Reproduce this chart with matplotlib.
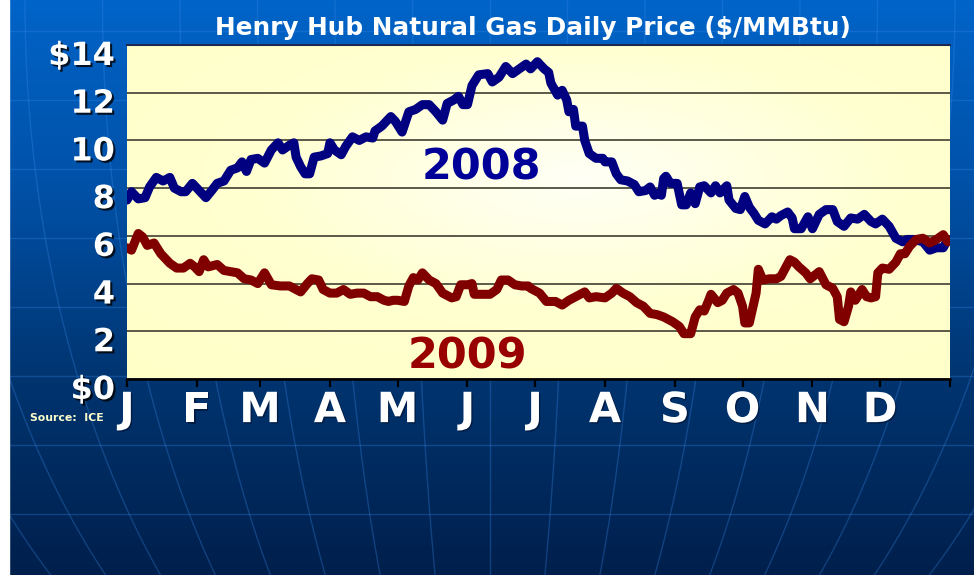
import numpy as np
import matplotlib.pyplot as plt
import matplotlib.patheffects as pe
from matplotlib.colors import LinearSegmentedColormap
from matplotlib.transforms import ScaledTranslation

# day-of-year / price readings, 2008
days08 = [0, 2, 5, 8, 10, 13, 16, 19, 21, 24, 26, 29, 32, 35, 38, 40, 43, 46, 49, 51, 53, 55,
          58, 61, 64, 67, 69, 72, 74, 75, 77, 79, 81, 83, 86, 89, 90, 92, 95, 97, 100, 103, 106, 109, 110, 113, 115, 117,
          119, 122, 125, 128, 131, 134, 137, 140, 142, 145, 147, 149, 151, 153, 156, 160, 162, 165, 168, 171, 174, 177,
          179, 182, 185, 187, 188, 191, 193, 195, 196, 198, 199, 202, 203, 205, 208, 211, 212, 215, 217, 219, 222, 225,
          227, 230, 232, 234, 236, 237,
          238, 239, 241, 244, 246, 248, 250, 252, 254, 256, 259, 261, 263, 266, 267, 270, 272, 274, 276, 278, 280, 283,
          286, 288, 290, 293, 295, 296,
          299, 302, 304, 307, 310, 313, 315, 318, 321, 324, 327, 330, 332, 335, 338, 341, 344, 346, 349, 353, 356, 359,
          362, 364]
vals08 = [7.5, 7.85, 7.55, 7.6, 8.05, 8.45, 8.3, 8.45, 8.0, 7.85, 7.85, 8.2, 7.9, 7.6, 7.95, 8.2, 8.3, 8.75, 8.85, 9.1, 8.7, 9.2,
          9.25, 9.05, 9.6, 9.9, 9.6, 9.8, 9.9, 9.3, 8.9, 8.6, 8.6, 9.3, 9.35, 9.45, 9.9, 9.6, 9.4, 9.75, 10.15, 10.0, 10.15,
          10.1, 10.4, 10.6, 10.8, 11.0,
          10.8, 10.35, 11.2, 11.3, 11.5, 11.5, 11.2, 10.85, 11.55, 11.7, 11.85, 11.5, 11.5, 12.3, 12.75, 12.8, 12.45, 12.65,
          13.1, 12.8, 13.0, 13.2,
          13.0, 13.3, 13.0, 12.85, 12.4, 11.9, 12.1, 11.7, 11.2, 11.3, 10.6, 10.6, 10.0, 9.45, 9.25, 9.25, 9.1, 9.1, 8.6,
          8.35, 8.3, 8.15, 7.85, 7.9, 8.05, 7.7, 7.8, 7.7,
          8.4, 8.5, 8.2, 8.2, 7.3, 7.3, 7.8, 7.35, 8.05, 8.1, 7.8, 8.1, 7.8, 8.1, 7.5, 7.15, 7.1, 7.65, 7.2, 6.95, 6.65, 6.5,
          6.8, 6.7, 6.85, 7.0, 6.75, 6.3,
          6.3, 6.8, 6.3, 6.9, 7.1, 7.1, 6.6, 6.4, 6.75, 6.7, 6.9, 6.6, 6.5, 6.7, 6.4, 5.9, 5.75, 5.85, 5.85, 5.75, 5.4, 5.5,
          5.5, 5.85]

# 2009
days09 = [0, 2, 5, 7, 9, 12, 15, 17, 19, 22, 25, 28, 30, 32, 34, 36, 40, 43, 46, 49, 52, 55,
          58, 61, 64, 68, 72, 75, 77, 80, 82, 85, 87, 90, 93, 96, 99, 102, 105, 108, 111, 114, 116, 118,
          120, 123, 125, 127, 129, 131, 134, 137, 140, 144, 146, 148, 151, 153, 154, 157, 161, 164, 166, 169, 172, 175, 178,
          179, 183, 186, 190, 193, 196, 199, 203, 205, 208, 212, 215, 217, 220, 223, 226, 229, 232, 235, 238,
          239, 242, 245, 247, 250, 252, 254, 256, 258, 259, 262, 264, 266, 269, 271, 273, 274, 276, 279, 280, 282, 285,
          288, 290, 292, 294, 296,
          298, 301, 303, 305, 307, 310, 313, 315, 316, 318, 320, 321, 323, 326, 328, 330, 332, 333, 335, 338, 341, 343,
          345, 347, 350, 353, 356, 359, 362, 364]
vals09 = [5.5, 5.4, 6.1, 5.95, 5.6, 5.7, 5.25, 5.05, 4.85, 4.65, 4.65, 4.85, 4.7, 4.5, 5.0, 4.7, 4.8, 4.55, 4.5, 4.45, 4.2, 4.15,
          4.0, 4.45, 3.95, 3.9, 3.9, 3.75, 3.65, 4.0, 4.2, 4.15, 3.75, 3.6, 3.6, 3.75, 3.55, 3.6, 3.6, 3.45, 3.45, 3.3, 3.25, 3.3,
          3.3, 3.25, 3.9, 4.25, 4.15, 4.45, 4.15, 4.0, 3.6, 3.4, 3.45, 3.95, 3.95, 4.0, 3.55, 3.55, 3.55, 3.75, 4.15, 4.15,
          3.95, 3.9, 3.9,
          3.8, 3.6, 3.25, 3.25, 3.1, 3.3, 3.45, 3.65, 3.4, 3.45, 3.4, 3.6, 3.8, 3.6, 3.45, 3.2, 3.05, 2.75, 2.7, 2.6,
          2.55, 2.4, 2.2, 1.9, 1.9, 2.6, 2.9, 2.85, 3.3, 3.55, 3.2, 3.3, 3.6, 3.75, 3.6, 3.05, 2.35, 2.35, 3.6, 4.6, 4.15, 4.2,
          4.2, 4.3, 4.65, 5.0, 4.9,
          4.7, 4.45, 4.2, 4.35, 4.5, 3.95, 3.8, 3.45, 2.5, 2.4, 3.05, 3.65, 3.3, 3.75, 3.45, 3.4, 3.45, 4.45, 4.65, 4.6, 4.9,
          5.25, 5.25, 5.55, 5.85, 5.9, 5.7, 5.85, 6.05, 5.75]

months = ['J', 'F', 'M', 'A', 'M', 'J', 'J', 'A', 'S', 'O', 'N', 'D']
month_starts = [0, 31, 59, 90, 120, 151, 181, 212, 243, 273, 304, 334]
price_ticks = [0, 2, 4, 6, 8, 10, 12, 14]
price_labels = ['$0', '2', '4', '6', '8', '10', '12', '$14']

W, H = 974, 575
fig = plt.figure(figsize=(W / 100, H / 100), dpi=100)

# slide background: blue gradient with globe lines
bg = fig.add_axes([0, 0, 1, 1])
bg.set_xlim(0, W)
bg.set_ylim(H, 0)
bg.axis('off')
bg_cmap = LinearSegmentedColormap.from_list('bg', ['#0064c8', '#0050a6', '#00346f', '#001f4c'])
bg.imshow(np.linspace(0, 1, 256).reshape(-1, 1), extent=[0, W, H, 0], cmap=bg_cmap, aspect='auto')
for yl in range(31, H, 69):
    bg.axhline(yl, color='#3a8ae8', alpha=0.3, lw=1)
ys = np.linspace(0, H, 200)
for k in range(-8, 9):
    bg.plot(490 + k * 77.5 * np.sqrt(1 - (ys / 815) ** 2), ys, color='#3a8ae8', alpha=0.3, lw=1)
bg.axvspan(0, 9, color='white', zorder=5)

# chart
ax = fig.add_axes([127 / W, 1 - 379 / H, (950 - 127) / W, (379 - 45) / H])
yy, xx = np.mgrid[0:1:200j, 0:1:300j]
r = np.sqrt(((xx - 0.55) / 0.75) ** 2 + ((yy - 0.6) / 0.75) ** 2)
ycmap = LinearSegmentedColormap.from_list('yl', ['#fffff6', '#ffffd0', '#ffffc8'])
ax.imshow(r, extent=[0, 365, 0, 14], aspect='auto', cmap=ycmap, origin='lower', zorder=0)
ax.set_xlim(0, 365)
ax.set_ylim(0, 14)

ax.plot(days08, vals08, color='#000080', lw=6.5, solid_joinstyle='round', solid_capstyle='round', zorder=3)
ax.plot(days09, vals09, color='#800000', lw=6.5, solid_joinstyle='round', solid_capstyle='round', zorder=4)

ax.text(157, 8.38, '2008', color='#000099', fontsize=31, fontweight='bold', ha='center', va='baseline', zorder=5)
ax.text(151, 0.42, '2009', color='#990000', fontsize=31, fontweight='bold', ha='center', va='baseline', zorder=5)

ax.set_yticks(price_ticks)
ax.set_yticklabels(price_labels)
ax.yaxis.grid(True, color='#4d4d3d', lw=1.3, zorder=1)
ax.set_axisbelow(True)
ax.tick_params(axis='y', length=0, pad=8.6, labelsize=23, labelcolor='white')
shadow = [pe.SimplePatchShadow(offset=(1.5, -1.5), shadow_rgbFace='black', alpha=0.8), pe.Normal()]
for lab in ax.get_yticklabels():
    lab.set_fontweight('bold')
    lab.set_path_effects(shadow)
    lab.set_transform(lab.get_transform() + ScaledTranslation(0, -0.08, fig.dpi_scale_trans))

ax.set_xticks(month_starts + [365])
ax.set_xticklabels(months + [''])
ax.tick_params(axis='x', length=5.8, width=1.6, color='black', direction='out', pad=1.5,
               labelsize=30, labelcolor='white')
for lab in ax.get_xticklabels():
    lab.set_fontweight('bold')
    lab.set_path_effects([pe.SimplePatchShadow(offset=(1, -1), shadow_rgbFace='#001030', alpha=0.6), pe.Normal()])

ax.spines['left'].set_visible(False)
ax.spines['right'].set_visible(False)
ax.spines['top'].set_color('#1a2a50')
ax.spines['top'].set_linewidth(1.5)
ax.spines['bottom'].set_color('black')
ax.spines['bottom'].set_linewidth(1.8)

fig.text(533 / W, 1 - 35 / H, 'Henry Hub Natural Gas Daily Price ($/MMBtu)', color='white',
         fontsize=17.8, fontweight='bold', ha='center', va='baseline')
fig.text(30 / W, 1 - 421 / H, 'Source:  ICE', color='#ffffcc', fontsize=7.8, fontweight='bold', va='baseline')

fig.savefig('out.png', dpi=100)
